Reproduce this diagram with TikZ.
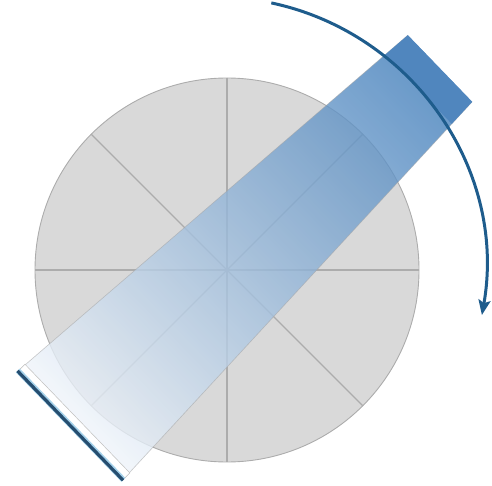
\documentclass[tikz,border=0pt]{standalone}
\usetikzlibrary{arrows.meta}
\definecolor{circfill}{RGB}{217,217,217}
\definecolor{circline}{RGB}{172,172,172}
\definecolor{spokecol}{RGB}{172,172,172}
\definecolor{beamsrc}{RGB}{60,122,184}
\definecolor{beamdet}{RGB}{242,246,251}
\definecolor{srcbox}{RGB}{78,133,190}
\definecolor{arrowblue}{RGB}{30,92,140}
\definecolor{detdark}{RGB}{38,78,112}
\definecolor{detglow}{RGB}{165,210,235}
\tikzset{
  spoke/.style={draw=spokecol, line width=1.1pt},
  beamedge/.style={draw=black!35, line width=0.6pt, draw opacity=0.6},
  rotarrow/.style={draw=arrowblue, line width=3pt, -{Stealth[length=15pt,width=12pt,inset=3pt]}}
}
\begin{document}
\begin{tikzpicture}[x=1pt,y=1pt]
\useasboundingbox (0,0) rectangle (492,485);
% rotating disk with its 8 sectors
\node[circle, draw=circline, fill=circfill, minimum size=384pt, inner sep=0pt, line width=0.9pt] (disk) at (227,215) {};
\foreach \a/\b in {0/180,45/225,90/270,135/315}
  \draw[spoke] (disk.\a) -- (disk.\b);
% beam, source and detector (local frame: x along the beam axis)
\begin{scope}[transform canvas={shift={(440pt,416.5pt)},rotate=44}]
  \shade[left color=beamdet, right color=beamsrc, fill opacity=0.8]
    (0,46.3) -- (0,-46.3) -- (-513,-75.5) -- (-513,75.5) -- cycle;
  \draw[beamedge] (0,46.3) -- (-513,75.5);
  \draw[beamedge] (0,-46.3) -- (-513,-75.5);
  \fill[srcbox, fill opacity=0.9] (0,46.3) -- (0,-46.3) -- (-30,-48) -- (-30,48) -- cycle;
  \filldraw[fill=white, draw=black!25, line width=0.5pt] (-513,-75.5) rectangle (-504,75.5);
  \draw[detglow, line width=5.5pt] (-513.5,-76) -- (-513.5,76);
  \draw[detdark, line width=3.2pt] (-514,-76) -- (-514,76);
\end{scope}
% rotation arrow
\coordinate (rotc) at (215,217);
\draw[rotarrow] (rotc) ++(78:271) arc[start angle=78, end angle=-10, radius=271];
\end{tikzpicture}
\end{document}
